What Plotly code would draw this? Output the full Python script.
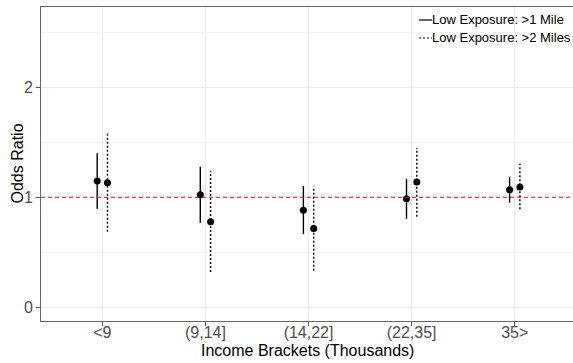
import plotly.graph_objects as go

# ---- data ----
categories = ["<9", "(9,14]", "(14,22]", "(22,35]", "35>"]
series_names = ["Low Exposure: >1 Mile", "Low Exposure: >2 Miles"]
or_1mile = [1.148, 1.024, 0.882, 0.987, 1.069]
lo_1mile = [0.896, 0.769, 0.664, 0.803, 0.951]
hi_1mile = [1.400, 1.278, 1.103, 1.166, 1.187]
or_2mile = [1.133, 0.778, 0.715, 1.139, 1.094]
lo_2mile = [0.687, 0.321, 0.333, 0.824, 0.891]
hi_2mile = [1.580, 1.239, 1.097, 1.451, 1.303]
ref_value = 1.0
y_ticks = [0, 1, 2]

# ---- layout constants ----
W, H = 573, 363
L, T, B, R = 41, 7, 42, 0
PW, PH = W - L - R, H - T - B
dodge = 0.05
dashes = ["solid", "2px,2px"]

fig = go.Figure()
base = list(range(1, len(categories) + 1))
for k, (est, lo, hi) in enumerate([(or_1mile, lo_1mile, hi_1mile), (or_2mile, lo_2mile, hi_2mile)]):
    off = -dodge if k == 0 else dodge
    xs = [b + off for b in base]
    lx, ly = [], []
    for x, a, c in zip(xs, lo, hi):
        lx += [x, x, None]
        ly += [a, c, None]
    fig.add_trace(go.Scatter(x=lx, y=ly, mode="lines",
                             line=dict(color="black", width=1.4, dash=dashes[k]),
                             showlegend=False, hoverinfo="skip"))
    fig.add_trace(go.Scatter(x=xs, y=est, mode="markers",
                             marker=dict(color="black", size=7),
                             showlegend=False, name=series_names[k]))

fig.add_shape(type="line", xref="paper", x0=0, x1=1, yref="y", y0=ref_value, y1=ref_value,
              line=dict(color="#c81e1e", width=1.2, dash="4px,3px"))

# manual legend
def px2paper(px, py):
    return (px - L) / PW, (H - B - py) / PH

leg_rows = [20, 38]
for k, name in enumerate(series_names):
    x0, y0 = px2paper(419, leg_rows[k])
    x1, _ = px2paper(432, leg_rows[k])
    fig.add_shape(type="line", xref="paper", yref="paper", x0=x0, x1=x1, y0=y0, y1=y0,
                  line=dict(color="black", width=1.2, dash=dashes[k]))
    tx, ty = px2paper(430, leg_rows[k])
    fig.add_annotation(xref="paper", yref="paper", x=tx, y=ty, text=name, showarrow=False,
                       xanchor="left", yanchor="middle",
                       font=dict(family="Liberation Sans, Arial", size=13, color="black"))

# axis titles
fig.add_annotation(xref="paper", yref="paper", x=0, y=0.5, xshift=-24.5, text="Odds Ratio",
                   textangle=-90, showarrow=False, xanchor="center", yanchor="middle",
                   font=dict(family="Liberation Sans, Arial", size=16, color="black"))
fig.add_annotation(xref="paper", yref="paper", x=0.5, y=0, yshift=-29,
                   text="Income Brackets (Thousands)", showarrow=False,
                   xanchor="center", yanchor="middle",
                   font=dict(family="Liberation Sans, Arial", size=16, color="black"))

fig.update_layout(
    width=W, height=H, margin=dict(l=L, r=R, t=T, b=B, pad=0),
    plot_bgcolor="white", paper_bgcolor="white", showlegend=False,
    font=dict(family="Liberation Sans, Arial", size=16, color="#4d4d4d"),
)
fig.update_xaxes(range=[0.405, 5.565], tickvals=base, ticktext=categories,
                 showgrid=True, gridcolor="#ebebeb", gridwidth=1,
                 showline=True, mirror=True, linecolor="#666666", linewidth=1,
                 ticks="outside", ticklen=4, tickcolor="#555555", tickwidth=1,
                 ticklabelstandoff=-7,
                 zeroline=False, tickfont=dict(size=16, color="#4d4d4d"))
fig.update_yaxes(range=[-0.125, 2.73], tickvals=y_ticks,
                 showgrid=True, gridcolor="#ebebeb", gridwidth=1,
                 minor=dict(showgrid=True, dtick=0.5, tick0=0, gridcolor="#f2f2f2", gridwidth=1),
                 showline=True, mirror=False, linecolor="#666666", linewidth=1,
                 ticks="outside", ticklen=4, tickcolor="#555555", tickwidth=1,
                 zeroline=False, tickfont=dict(size=16, color="#4d4d4d"))

fig.write_html("out.html")
